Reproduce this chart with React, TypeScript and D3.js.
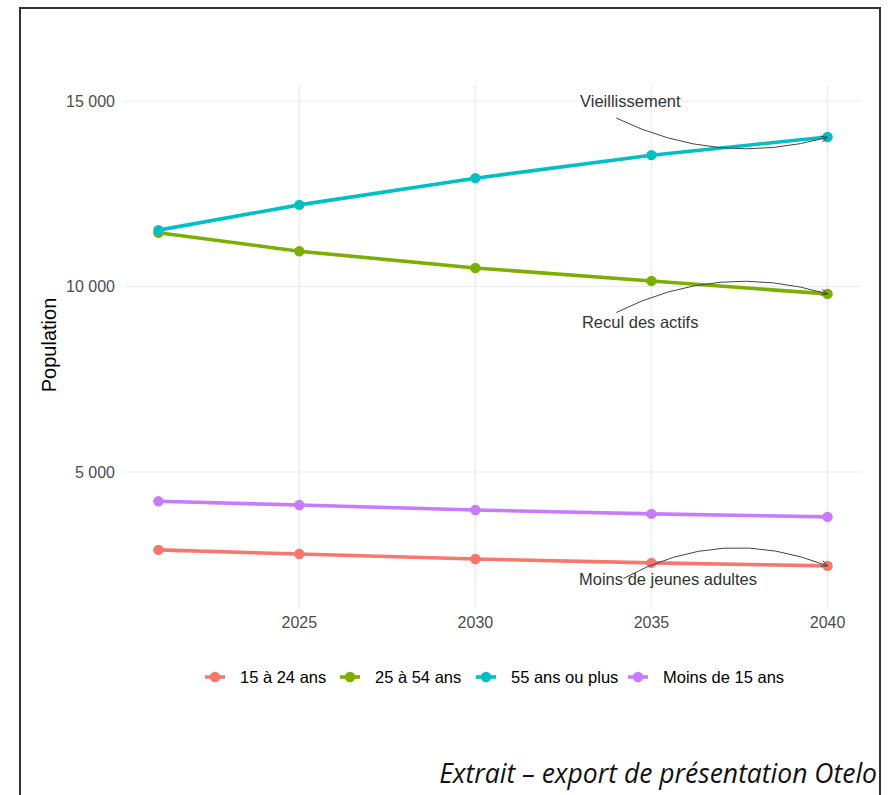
import React from "react";
import * as d3 from "d3";

const years = [2021, 2025, 2030, 2035, 2040];
const seriesNames = ["15 à 24 ans", "25 à 54 ans", "55 ans ou plus", "Moins de 15 ans"];
const values1524 = [2900, 2790, 2655, 2550, 2470];
const values2554 = [11450, 10950, 10500, 10150, 9800];
const values55plus = [11520, 12200, 12920, 13540, 14030];
const valuesMoins15 = [4210, 4110, 3975, 3870, 3790];
const xTicks = [2025, 2030, 2035, 2040];
const yTicks = [5000, 10000, 15000];
const yTickLabels = ["5 000", "10 000", "15 000"];
const annotationLabels = ["Vieillissement", "Recul des actifs", "Moins de jeunes adultes"];
const annotationTextPos = [[2034.4, 15000], [2034.68, 9030], [2035.47, 2110]];
const annotationFrom = [[2034.0, 14540], [2034.0, 9300], [2034.2, 2130]];
const annotationTo = [[2040, 14020], [2040, 9800], [2040, 2470]];

const colors = ["#F8766D", "#7CAE00", "#00BFC4", "#C77CFF"];
const curveBend = [20, -21, -24];

export default function App() {
  const W = 888, H = 795;
  const panel = { left: 125, right: 861, top: 85, bottom: 610 };
  const x = d3.scaleLinear().domain([2021 - 0.95, 2040 + 0.95]).range([panel.left, panel.right]);
  const y = d3.scaleLinear().domain([0, 15000]).range([657.5, 101]);
  const allSeries = [values1524, values2554, values55plus, valuesMoins15];
  const line = d3.line<number>().x((_, i) => x(years[i])).y((d) => y(d));
  const font = "'Liberation Sans', Arial, sans-serif";

  const curvePath = (k: number) => {
    const [x0, y0] = [x(annotationFrom[k][0]), y(annotationFrom[k][1])];
    const [x1, y1] = [x(annotationTo[k][0]), y(annotationTo[k][1])];
    const mx = (x0 + x1) / 2, my = (y0 + y1) / 2;
    const dx = x1 - x0, dy = y1 - y0;
    const len = Math.hypot(dx, dy);
    const nx = -dy / len, ny = dx / len;
    const cx = mx + nx * curveBend[k] * 2, cy = my + ny * curveBend[k] * 2;
    const p = d3.path();
    p.moveTo(x0, y0);
    p.quadraticCurveTo(cx, cy, x1, y1);
    const ang = Math.atan2(y1 - cy, x1 - cx);
    const a = 7;
    const p2 = d3.path();
    p2.moveTo(x1 - a * Math.cos(ang - 0.45), y1 - a * Math.sin(ang - 0.45));
    p2.lineTo(x1, y1);
    p2.lineTo(x1 - a * Math.cos(ang + 0.45), y1 - a * Math.sin(ang + 0.45));
    return [p.toString(), p2.toString()];
  };

  const legendX = [215, 350, 486, 638];
  const legendY = 677;

  return (
    <svg width={W} height={H} style={{ position: "absolute", left: 0, top: 0, background: "#fff" }}>
      <rect x={0} y={0} width={W} height={H} fill="#fff" />
      <path d="M20,796 L20,8 L880,8 L880,796" fill="none" stroke="#333" strokeWidth={2} />
      {yTicks.map((t) => (
        <line key={"gy" + t} x1={panel.left} x2={panel.right} y1={y(t)} y2={y(t)} stroke="#ebebeb" strokeWidth={1.2} />
      ))}
      {xTicks.map((t) => (
        <line key={"gx" + t} x1={x(t)} x2={x(t)} y1={panel.top} y2={panel.bottom} stroke="#ebebeb" strokeWidth={1.2} />
      ))}
      {yTicks.map((t, i) => (
        <text key={"ly" + t} x={115} y={y(t)} dy="0.35em" textAnchor="end" fontFamily={font} fontSize={16} fill="#4d4d4d">
          {yTickLabels[i]}
        </text>
      ))}
      {xTicks.map((t) => (
        <text key={"lx" + t} x={x(t)} y={622} dy="0.35em" textAnchor="middle" fontFamily={font} fontSize={16} fill="#4d4d4d">
          {t}
        </text>
      ))}
      <text transform="translate(56,345) rotate(-90)" textAnchor="middle" fontFamily={font} fontSize={20} fill="#000">
        Population
      </text>
      {allSeries.map((s, k) => (
        <g key={"s" + k}>
          <path d={line(s) || ""} fill="none" stroke={colors[k]} strokeWidth={3.6} />
          {s.map((v, i) => (
            <circle key={i} cx={x(years[i])} cy={y(v)} r={5.2} fill={colors[k]} />
          ))}
        </g>
      ))}
      {annotationLabels.map((lab, k) => {
        const [c, a] = curvePath(k);
        return (
          <g key={"a" + k}>
            <path d={c} fill="none" stroke="#444" strokeWidth={1} />
            <path d={a} fill="none" stroke="#444" strokeWidth={1} />
            <text x={x(annotationTextPos[k][0])} y={y(annotationTextPos[k][1])} dy="0.35em" textAnchor="middle" fontFamily={font} fontSize={16.5} fill="#333">
              {lab}
            </text>
          </g>
        );
      })}
      {seriesNames.map((n, k) => (
        <g key={"lg" + k}>
          <line x1={legendX[k] - 10} x2={legendX[k] + 10} y1={legendY} y2={legendY} stroke={colors[k]} strokeWidth={3.6} />
          <circle cx={legendX[k]} cy={legendY} r={5.2} fill={colors[k]} />
          <text x={legendX[k] + 25} y={legendY} dy="0.35em" fontFamily={font} fontSize={16.5} fill="#000">
            {n}
          </text>
        </g>
      ))}
      <text x={877} y={783} textAnchor="end" fontFamily="'Open Sans', Lato, sans-serif" fontStyle="italic" fontSize={26.5} fill="#111">
        Extrait – export de présentation Otelo
      </text>
    </svg>
  );
}
